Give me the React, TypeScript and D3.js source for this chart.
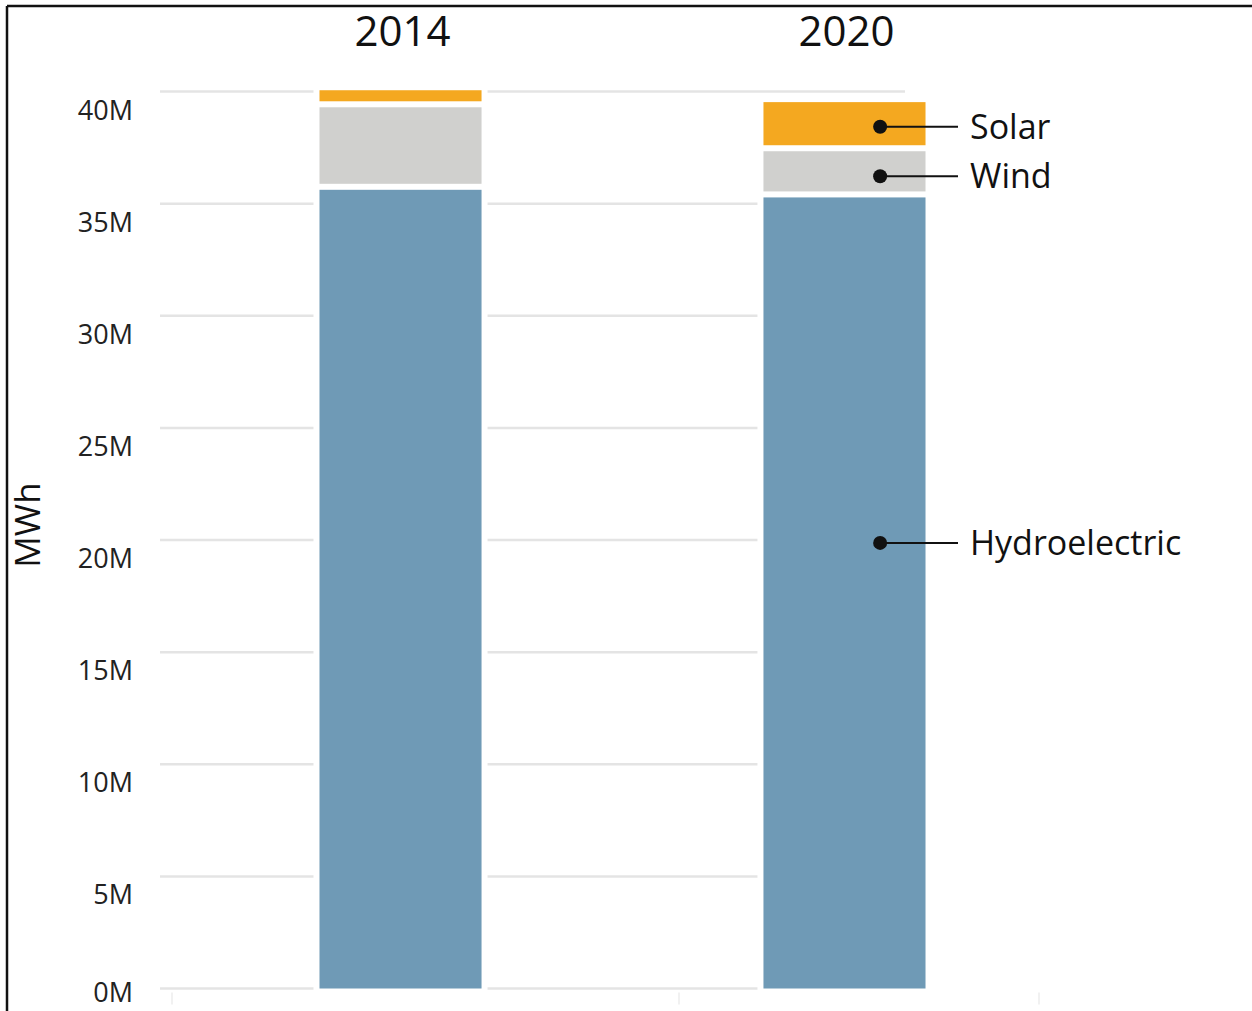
import React from "react";
import * as d3 from "d3";

const years = ["2014", "2020"];
const sources = ["Hydroelectric", "Wind", "Solar"];
const hydro = [35.75e6, 35.41e6];
const wind = [3.68e6, 2.06e6];
const solar = [0.76e6, 2.19e6];
const yTicks = [0, 5e6, 10e6, 15e6, 20e6, 25e6, 30e6, 35e6, 40e6];
const colors = ["#6f9ab6", "#d0d0ce", "#f4a820"];
// where each legend label points to on the 2020 bar (MWh)
const legendAnchor = [19.87e6, 36.22e6, 38.43e6];

const W = 1252;
const H = 1011;
const FONT = "'Open Sans', Lato, sans-serif";

export default function App() {
  const y = d3.scaleLinear().domain([0, 40e6]).range([988.5, 91.5]);
  const x = d3
    .scaleBand<string>()
    .domain(years)
    .range([97.5, 1147.5])
    .paddingInner(0.635)
    .paddingOuter(0.5);
  const bw = x.bandwidth();

  const rows = years.map((yr, i) => ({
    year: yr,
    Hydroelectric: hydro[i],
    Wind: wind[i],
    Solar: solar[i],
  }));
  const stacked = d3.stack<any>().keys(sources)(rows);

  const gap = 3;
  const gridX0 = 160;
  const gridX1 = 905;
  const fmt = (v: number) => `${v / 1e6}M`;

  const last = years.length - 1;
  const legendX = (x(years[last]) as number) + bw * 0.72;

  return (
    <svg
      width={W}
      height={H}
      style={{ position: "absolute", left: 0, top: 0, background: "#fff" }}
    >
      <rect x={0} y={0} width={W} height={H} fill="#fff" />
      {/* frame */}
      <line x1={7} x2={W} y1={6} y2={6} stroke="#111" strokeWidth={2.5} />
      <line x1={7} x2={7} y1={6} y2={H} stroke="#111" strokeWidth={2.5} />

      {/* grid */}
      {yTicks.map((t) => (
        <line
          key={"g" + t}
          x1={gridX0}
          x2={gridX1}
          y1={y(t)}
          y2={y(t)}
          stroke="#e4e4e4"
          strokeWidth={2.5}
        />
      ))}
      {/* faint bottom ticks */}
      {[172, 679, 1039].map((tx) => (
        <line
          key={"bt" + tx}
          x1={tx}
          x2={tx}
          y1={y(0) + 4}
          y2={y(0) + 16}
          stroke="#ececec"
          strokeWidth={1.5}
        />
      ))}

      {/* y tick labels */}
      {yTicks.map((t) => (
        <text
          key={"l" + t}
          x={133}
          y={Math.min(y(t) + 28, 1002)}
          textAnchor="end"
          fontFamily={FONT}
          fontSize={27}
          fill="#222"
        >
          {fmt(t)}
        </text>
      ))}

      {/* y axis title */}
      <text
        transform={`translate(40, ${y(20e6) - 15}) rotate(-90)`}
        textAnchor="middle"
        fontFamily={FONT}
        fontSize={35}
        fill="#111"
      >
        MWh
      </text>

      {/* bar backdrops that cut the grid */}
      {years.map((yr, i) => {
        const top = y(stacked[stacked.length - 1][i][1]);
        return (
          <rect
            key={"bg" + yr}
            x={(x(yr) as number) - 6}
            y={top - gap}
            width={bw + 12}
            height={y(0) - top + gap + 2}
            fill="#fff"
          />
        );
      })}

      {/* bars */}
      {stacked.map((layer, li) =>
        layer.map((d, i) => {
          const yt = y(d[1]) + gap;
          const yb = d[0] === 0 ? y(0) : y(d[0]) - gap;
          return (
            <rect
              key={layer.key + i}
              x={x(years[i]) as number}
              y={yt}
              width={bw}
              height={Math.max(0, yb - yt)}
              fill={colors[li]}
            />
          );
        })
      )}

      {/* column titles */}
      {years.map((yr) => (
        <text
          key={"t" + yr}
          x={(x(yr) as number) + bw / 2 + 2}
          y={46}
          textAnchor="middle"
          fontFamily={FONT}
          fontSize={42}
          fill="#111"
        >
          {yr}
        </text>
      ))}

      {/* legend */}
      {sources.map((s, i) => {
        const ly = y(legendAnchor[i]);
        return (
          <g key={"lg" + s}>
            <line x1={legendX} x2={958} y1={ly} y2={ly} stroke="#111" strokeWidth={2} />
            <circle cx={legendX} cy={ly} r={7} fill="#111" />
            <text
              x={970}
              y={ly}
              dy="0.35em"
              fontFamily={FONT}
              fontSize={34}
              fill="#111"
            >
              {s}
            </text>
          </g>
        );
      })}
    </svg>
  );
}
